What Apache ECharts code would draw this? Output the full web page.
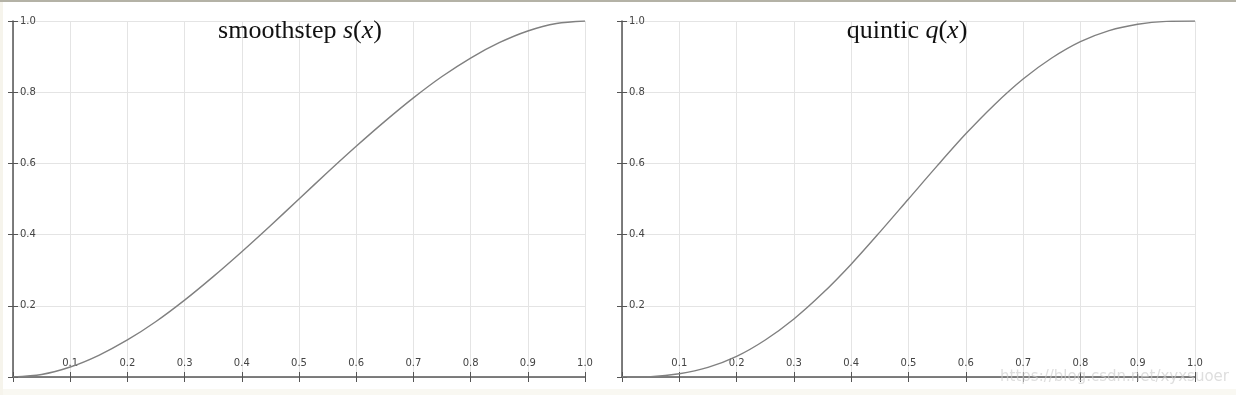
<!DOCTYPE html>
<html>
<head>
<meta charset="utf-8">
<script src="https://cdn.jsdelivr.net/npm/echarts@6/dist/echarts.min.js"></script>
<style>
html,body{margin:0;padding:0;background:#fff;}
#chart{width:1236px;height:395px;}
</style>
</head>
<body>
<div id="chart"></div>
<script>
// Data
var xValues = [0, 0.05, 0.1, 0.15, 0.2, 0.25, 0.3, 0.35, 0.4, 0.45, 0.5, 0.55, 0.6, 0.65, 0.7, 0.75, 0.8, 0.85, 0.9, 0.95, 1.0];
var smoothstepValues = [0, 0.007, 0.028, 0.061, 0.104, 0.156, 0.216, 0.282, 0.352, 0.425, 0.5, 0.575, 0.648, 0.718, 0.784, 0.844, 0.896, 0.939, 0.972, 0.993, 1.0];
var quinticValues = [0, 0.001, 0.009, 0.027, 0.058, 0.104, 0.163, 0.235, 0.317, 0.407, 0.5, 0.593, 0.683, 0.765, 0.837, 0.896, 0.942, 0.973, 0.991, 0.999, 1.0];
var xTickLabels = ['0.1', '0.2', '0.3', '0.4', '0.5', '0.6', '0.7', '0.8', '0.9', '1.0'];
var yTickLabels = ['0.2', '0.4', '0.6', '0.8', '1.0'];
var titles = ['smoothstep', 'quintic'];
var titleFns = ['s', 'q'];

function pairs(ys) {
  return xValues.map(function (x, i) { return [x, ys[i]]; });
}

var axisColor = '#555';
var gridColor = '#e4e4e4';
var labelStyle = { color: '#444', fontFamily: 'DejaVu Sans', fontSize: 10 };

var grids = [
  { left: 13, right: 651, top: 21, bottom: 18 },
  { left: 622, right: 41, top: 21, bottom: 18 }
];

var xAxes = [], yAxes = [], series = [], titleOpts = [];
grids.forEach(function (g, gi) {
  var xMain = gi * 2, xHelp = gi * 2 + 1, yMain = gi * 2, yHelp = gi * 2 + 1;
  xAxes.push({
    type: 'value', gridIndex: gi, min: 0, max: 1, interval: 0.1, position: 'bottom',
    axisLine: { show: true, onZero: true, onZeroAxisIndex: yMain, lineStyle: { color: axisColor, width: 1.5 } },
    axisTick: { show: true, length: 5, lineStyle: { color: axisColor, width: 1 } },
    axisLabel: {
      show: true, inside: true, margin: 9, ...labelStyle,
      formatter: function (v) { var s = v.toFixed(1); return xTickLabels.indexOf(s) >= 0 ? s : ''; }
    },
    splitLine: { show: true, lineStyle: { color: gridColor, width: 1 } }
  });
  xAxes.push({
    type: 'value', gridIndex: gi, min: 0, max: 1, interval: 0.1, position: 'top',
    axisLine: { show: false, onZero: true, onZeroAxisIndex: yHelp },
    axisTick: { show: true, length: 5, lineStyle: { color: axisColor, width: 1 } },
    axisLabel: { show: false },
    splitLine: { show: false }
  });
  yAxes.push({
    type: 'value', gridIndex: gi, min: 0, max: 1, interval: 0.2, position: 'left',
    axisLine: { show: true, onZero: true, onZeroAxisIndex: xMain, lineStyle: { color: axisColor, width: 1.5 } },
    axisTick: { show: true, length: 5, lineStyle: { color: axisColor, width: 1 } },
    axisLabel: {
      show: true, inside: true, margin: 7, ...labelStyle,
      formatter: function (v) { var s = v.toFixed(1); return yTickLabels.indexOf(s) >= 0 ? s : ''; }
    },
    splitLine: { show: true, lineStyle: { color: gridColor, width: 1 } }
  });
  yAxes.push({
    type: 'value', gridIndex: gi, min: 0, max: 1, interval: 0.2, position: 'right',
    axisLine: { show: false, onZero: true, onZeroAxisIndex: xHelp },
    axisTick: { show: true, length: 5, lineStyle: { color: axisColor, width: 1 } },
    axisLabel: { show: false },
    splitLine: { show: false }
  });
  series.push({
    type: 'line', xAxisIndex: xMain, yAxisIndex: yMain,
    data: pairs(gi === 0 ? smoothstepValues : quinticValues),
    smooth: 0.3, showSymbol: false, symbol: 'none',
    lineStyle: { color: '#808080', width: 1.4 },
    z: 5
  });
  titleOpts.push({
    text: '{a|' + titles[gi] + ' }{i|' + titleFns[gi] + '}{a|(}{i|x}{a|)}',
    left: gi === 0 ? 295 : 902, top: 13, textAlign: 'center',
    textStyle: {
      fontWeight: 'normal',
      rich: {
        a: { fontFamily: 'Liberation Serif', fontWeight: 'normal', fontSize: 26, color: '#111' },
        i: { fontFamily: 'Liberation Serif', fontWeight: 'normal', fontStyle: 'italic', fontSize: 26, color: '#111' }
      }
    }
  });
});

titleOpts.push({
  text: 'https://blog.csdn.net/xyxsuoer',
  right: 2, bottom: 5,
  textStyle: { fontFamily: 'DejaVu Sans', fontSize: 15, fontWeight: 'normal', color: 'rgba(205,205,205,0.65)' }
});

var chart = echarts.init(document.getElementById('chart'), null, { renderer: 'canvas' });
chart.setOption({
  backgroundColor: '#fff',
  animation: false,
  title: titleOpts,
  grid: grids,
  xAxis: xAxes,
  yAxis: yAxes,
  series: series,
  graphic: [
    { type: 'rect', shape: { x: 0, y: 0, width: 1236, height: 2 }, style: { fill: '#b4b2a6' }, silent: true },
    { type: 'rect', shape: { x: 0, y: 389, width: 1236, height: 6 }, style: { fill: '#f9f8f2' }, silent: true, z: -1 },
    { type: 'rect', shape: { x: 0, y: 2, width: 3, height: 393 }, style: { fill: '#f6f4ec' }, silent: true, z: -1 }
  ]
});
</script>
</body>
</html>
